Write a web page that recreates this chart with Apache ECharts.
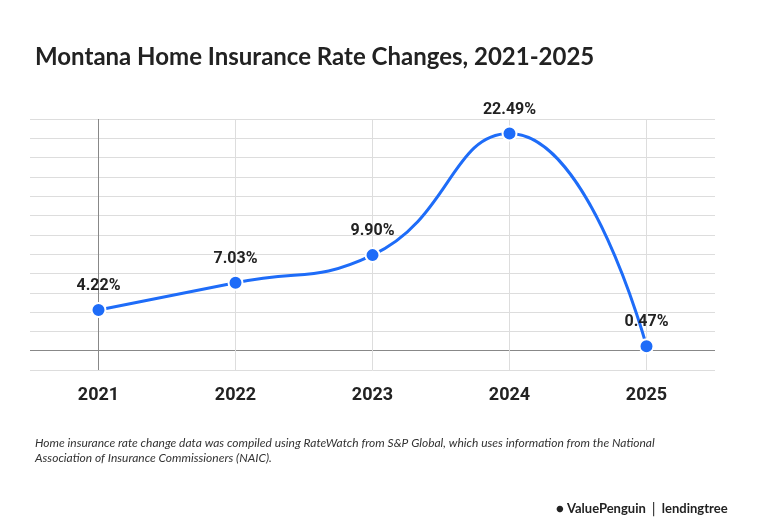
<!DOCTYPE html><html><head><meta charset="utf-8"><script src="https://cdn.jsdelivr.net/npm/echarts@6/dist/echarts.min.js"></script>
<style>body{margin:0;background:#fff}#c{width:760px;height:522px}</style></head><body><div id="c"></div>
<script>
const years=['2021','2022','2023','2024','2025'];
const rates=[4.22,7.03,9.90,22.49,0.47];
const yTicks={min:-2,max:24,interval:2};
const ch=echarts.init(document.getElementById('c'));
ch.setOption({
animation:false,
title:[{text:'Montana Home Insurance Rate Changes, 2021-2025',left:30,top:40,textStyle:{fontFamily:'Lato',fontSize:24,fontWeight:'bold',color:'#222'}},
{text:'Home insurance rate change data was compiled using RateWatch from S&P Global, which uses information from the National\nAssociation of Insurance Commissioners (NAIC).',left:30,top:431,textStyle:{fontFamily:'Lato',fontSize:12,fontStyle:'italic',fontWeight:'normal',color:'#333',lineHeight:15}},
{text:'● ValuePenguin │ lendingtree',left:551,top:497,textStyle:{fontFamily:'Lato',fontSize:13,fontWeight:'bold',color:'#222'}}],
grid:{left:30,right:45,top:119,bottom:152},
xAxis:{type:'category',data:years,boundaryGap:true,axisTick:{show:false},axisLine:{show:false},
 axisLabel:{fontFamily:'Roboto',fontSize:18,fontWeight:'bold',color:'#222',margin:16},
 splitLine:{show:false}},
yAxis:{type:'value',min:yTicks.min,max:yTicks.max,interval:yTicks.interval,axisLabel:{show:false},
 axisLine:{show:false},axisTick:{show:false},
 splitLine:{lineStyle:{color:'#ddd'}}},
series:[{type:'line',data:rates,smooth:0.5,symbol:'circle',symbolSize:14,z:5,
 lineStyle:{color:'#1e6cf8',width:3},itemStyle:{color:'#1e6cf8',borderColor:'#fff',borderWidth:2},
 label:{show:true,position:'top',distance:8,formatter:p=>p.value.toFixed(2)+'%',fontFamily:'Roboto',fontSize:16,fontWeight:'bold',color:'#222'},
 markLine:{silent:true,symbol:'none',label:{show:false},z:1,lineStyle:{color:'#ddd',type:'solid',width:1},
  data:[{yAxis:0,lineStyle:{color:'#888'}},{xAxis:'2021',lineStyle:{color:'#888'}},{xAxis:'2022'},{xAxis:'2023'},{xAxis:'2024'},{xAxis:'2025'}]}}]
});
</script></body></html>
